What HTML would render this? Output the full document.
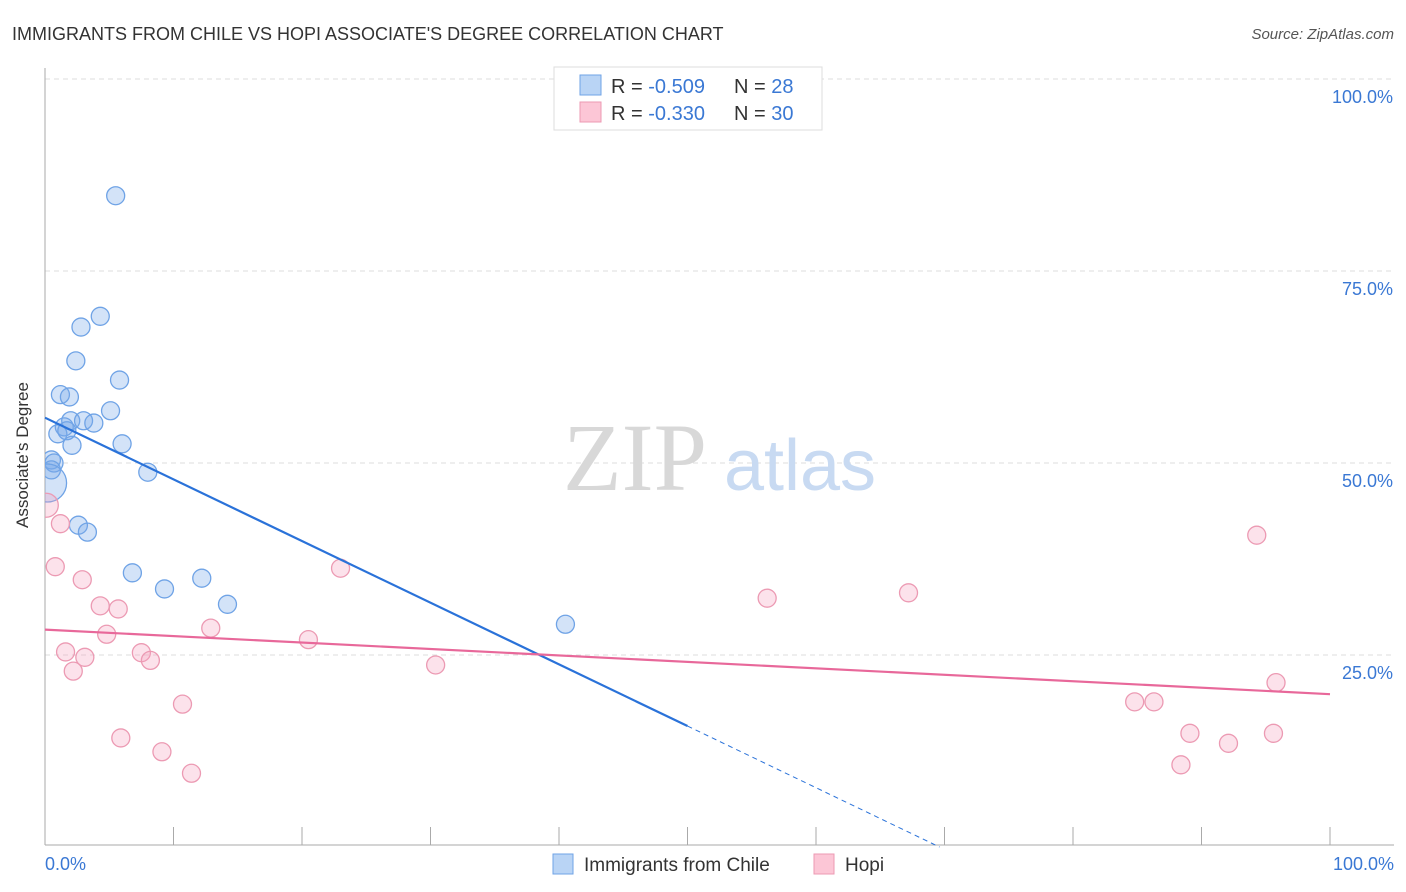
<!DOCTYPE html>
<html><head><meta charset="utf-8"><style>
body{margin:0;background:#fff;font-family:"Liberation Sans",sans-serif;}
svg{display:block}
</style></head><body>
<svg id="chart" width="1406" height="892" font-family="Liberation Sans, sans-serif">
<defs><clipPath id="plotclip"><rect x="45" y="60" width="1360" height="785"/></clipPath></defs>
<text x="12" y="40" font-size="18" fill="#333">IMMIGRANTS FROM CHILE VS HOPI ASSOCIATE'S DEGREE CORRELATION CHART</text>
<text x="1394" y="39" font-size="15" fill="#555" font-style="italic" text-anchor="end">Source: ZipAtlas.com</text>
<g id="grid"></g>
<g><text x="635" y="490" font-size="96" font-family="Liberation Serif, serif" fill="#d8d8d8" text-anchor="middle">ZIP</text><text x="800" y="490" font-size="72" fill="#c8daf2" text-anchor="middle">atlas</text></g>
<g id="axes"></g>
<g id="pts" clip-path="url(#plotclip)"></g>
<g id="lines"></g>
<text x="28" y="455" font-size="17" fill="#333" text-anchor="middle" transform="rotate(-90 28 455)">Associate's Degree</text>
<text x="45" y="870" font-size="18" fill="#3a78d4">0.0%</text>
<text x="1394" y="870" font-size="18" fill="#3a78d4" text-anchor="end">100.0%</text>
<g>
<rect x="554" y="67" width="268" height="63" fill="#fff" stroke="#ddd"/>
<rect x="580" y="75" width="21" height="20" fill="#b9d4f5" stroke="#6fa3e6"/>
<rect x="580" y="102" width="21" height="20" fill="#fcc6d6" stroke="#ec9ab3"/>
<text x="611" y="93" font-size="20" fill="#333">R = <tspan fill="#3a78d4">-0.509</tspan><tspan x="734">N = </tspan><tspan fill="#3a78d4">28</tspan></text>
<text x="611" y="120" font-size="20" fill="#333">R = <tspan fill="#3a78d4">-0.330</tspan><tspan x="734">N = </tspan><tspan fill="#3a78d4">30</tspan></text>
</g>
<g>
<rect x="553" y="854" width="20" height="20" fill="#b9d4f5" stroke="#6fa3e6"/>
<text x="584" y="871" font-size="19" fill="#333">Immigrants from Chile</text>
<rect x="814" y="854" width="20" height="20" fill="#fcc6d6" stroke="#ec9ab3"/>
<text x="845" y="871" font-size="19" fill="#333">Hopi</text>
</g>
</svg>
<script>
const yTicks=[25,50,75,100];
const yTickLabels=["25.0%","50.0%","75.0%","100.0%"];
const xTicks=[0,10,20,30,40,50,60,70,80,90,100];
const chileX=[5.5,4.3,2.8,2.4,5.8,1.2,1.9,5.1,2.0,3.0,3.8,1.5,1.0,2.1,6.0,0.5,0.7,0.5,8.0,0.2,2.6,3.3,6.8,9.3,12.2,14.2,40.5,1.7];
const chileY=[84.8,69.1,67.7,63.3,60.8,58.9,58.6,56.8,55.5,55.5,55.2,54.7,53.8,52.3,52.5,50.4,50.0,49.1,48.8,47.4,41.9,41.0,35.7,33.6,35.0,31.6,29.0,54.2];
const chileR=[9,9,9,9,9,9,9,9,9,9,9,9,9,9,9,9,9,9,9,19,9,9,9,9,9,9,9,9];
const hopiX=[0.1,1.2,0.8,2.9,4.3,5.7,4.8,12.9,1.6,3.1,7.5,8.2,2.2,20.5,23.0,30.4,10.7,5.9,9.1,11.4,56.2,67.2,94.3,95.8,84.8,86.3,89.1,88.4,92.1,95.6];
const hopiY=[44.5,42.1,36.5,34.8,31.4,31.0,27.7,28.5,25.4,24.7,25.3,24.3,22.9,27.0,36.3,23.7,18.6,14.2,12.4,9.6,32.4,33.1,40.6,21.4,18.9,18.9,14.8,10.7,13.5,14.8];
const hopiR=[12,9,9,9,9,9,9,9,9,9,9,9,9,9,9,9,9,9,9,9,9,9,9,9,9,9,9,9,9,9];
const chileTrend=[55.9,-0.803];
const hopiTrend=[28.3,-0.084];
const X=v=>45+v*12.85, Y=v=>847-v*7.68;
const NS="http://www.w3.org/2000/svg";
function mk(t,a,p){const e=document.createElementNS(NS,t);for(const k in a)e.setAttribute(k,a[k]);p.appendChild(e);return e;}
const grid=document.getElementById('grid'),axes=document.getElementById('axes'),pts=document.getElementById('pts'),lines=document.getElementById('lines');
yTicks.forEach((t,i)=>{
 const g=mk('line',{x1:45,x2:1394,y1:Y(t),y2:Y(t),stroke:'#ddd','stroke-dasharray':'5,4'},grid);
 
 
 const l=mk('text',{x:1393,y:Y(t)+24,'font-size':18,fill:'#3a78d4','text-anchor':'end'},axes);
 l.textContent=yTickLabels[i];
 
 
});
mk('line',{x1:45,x2:45,y1:68,y2:845,stroke:'#aaa'},axes);
mk('line',{x1:45,x2:1394,y1:845,y2:845,stroke:'#aaa'},axes);
xTicks.forEach(t=>{
 const tk=mk('line',{x1:X(t),x2:X(t),y1:845,y2:827,stroke:'#aaa'},axes);
 
 
});
function dots(xs,ys,rs,fill,stroke,name){xs.forEach((x,i)=>{
 const c=mk('circle',{cx:X(x),cy:Y(ys[i]),r:rs[i],fill:fill,stroke:stroke,'stroke-width':1.3},pts);
 
 
});}
dots(chileX,chileY,chileR,'rgba(120,170,235,0.33)','#6fa3e6','chile-point');
dots(hopiX,hopiY,hopiR,'rgba(245,160,190,0.3)','#ec9ab3','hopi-point');
const bEnd=50, bZero=-chileTrend[0]/chileTrend[1];
const l1=mk('line',{x1:X(0),y1:Y(chileTrend[0]),x2:X(bEnd),y2:Y(chileTrend[0]+chileTrend[1]*bEnd),stroke:'#2a72d9','stroke-width':2.2},lines);


const l2=mk('line',{x1:X(bEnd),y1:Y(chileTrend[0]+chileTrend[1]*bEnd),x2:X(bZero),y2:Y(0),stroke:'#2a72d9','stroke-width':1,'stroke-dasharray':'5,4'},lines);


const l3=mk('line',{x1:X(0),y1:Y(hopiTrend[0]),x2:X(100),y2:Y(hopiTrend[0]+hopiTrend[1]*100),stroke:'#e8689a','stroke-width':2.2},lines);


</script>
</body></html>
